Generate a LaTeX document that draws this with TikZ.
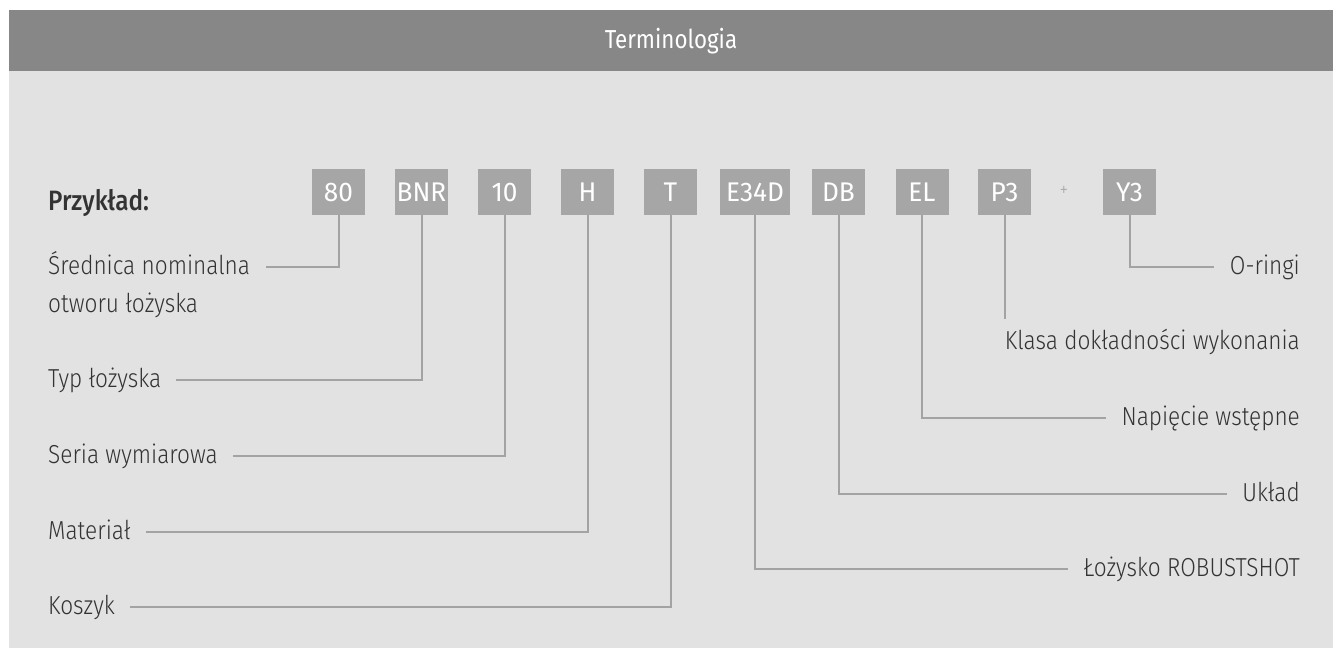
\documentclass[tikz,border=0pt]{standalone}
\usepackage{fontspec}
\setmainfont{Fira Sans}[UprightFont=* Light, BoldFont=* Medium, FakeStretch=0.87]
\newfontfamily\boxfont{Fira Sans}[FakeStretch=0.97]
\newfontfamily\titlefont{Fira Sans}[FakeStretch=0.86]
\usetikzlibrary{calc}
\definecolor{hdr}{HTML}{878787}
\definecolor{bg}{HTML}{E2E2E2}
\definecolor{boxc}{HTML}{A6A6A6}
\definecolor{linec}{HTML}{A3A3A3}
\definecolor{txt}{HTML}{333333}
\begin{document}
\begin{tikzpicture}[x=1pt,y=-1pt,
  code/.style={fill=boxc, text=white, minimum width=53pt, minimum height=46pt, inner sep=0pt,
    font=\boxfont\fontsize{27}{27}\selectfont},
  lbl/.style={text=txt, inner sep=0pt, font=\fontsize{26}{38}\selectfont},
  lead/.style={draw=linec, line width=2pt, line join=miter}]
\useasboundingbox (0,0) rectangle (1338,648);
\fill[bg] (9,10) rectangle (1333,648);
\fill[hdr] (9,10) rectangle (1333,71);
\node[text=white, inner sep=0pt, font=\titlefont\fontsize{26}{26}\selectfont] (title) at (671,41) {Terminologia};
\node[text=txt, inner sep=0pt, anchor=base west, font=\bfseries\fontsize{28}{28}\selectfont] (ex) at (48,210) {Przykład:};
% code boxes
\node[code] (b80) at (338.5,192) {80};
\node[code] (bBNR) at (421.5,192) {BNR};
\node[code] (b10) at (504.5,192) {10};
\node[code] (bH) at (587.5,192) {H};
\node[code] (bT) at (670.5,192) {T};
\node[code, minimum width=70pt] (bE) at (755,192) {E34D};
\node[code] (bDB) at (838.5,192) {DB};
\node[code] (bEL) at (922,192) {EL};
\node[code] (bP3) at (1004.5,192) {P3};
\node[text=boxc, inner sep=0pt, font=\fontsize{20}{20}\selectfont] (plus) at (1064,191) {+};
\node[code] (bY3) at (1129.5,192) {Y3};
% left labels
\node[lbl, anchor=base west, align=left] (l80) at (48,312) {Średnica nominalna\\otworu łożyska};
\node[lbl, anchor=base west] (lBNR) at (48,387) {Typ łożyska};
\node[lbl, anchor=base west] (l10) at (48,463) {Seria wymiarowa};
\node[lbl, anchor=base west] (lH) at (48,539) {Materiał};
\node[lbl, anchor=base west] (lT) at (48,614) {Koszyk};
% right labels
\node[lbl, anchor=base east] (lY3) at (1300,274) {O-ringi};
\node[lbl, anchor=base east] (lP3) at (1300,349) {Klasa dokładności wykonania};
\node[lbl, anchor=base east] (lEL) at (1300,425) {Napięcie wstępne};
\node[lbl, anchor=base east] (lDB) at (1300,501) {Układ};
\node[lbl, anchor=base east] (lE) at (1300,576) {Łożysko ROBUSTSHOT};
% leader ends
\coordinate (e80) at ($(l80.east |- 0,267)+(16,0)$);
\coordinate (eBNR) at ($(lBNR.east |- 0,380)+(15,0)$);
\coordinate (e10) at ($(l10.east |- 0,456)+(15,0)$);
\coordinate (eH) at ($(lH.east |- 0,532)+(15,0)$);
\coordinate (eT) at ($(lT.east |- 0,607)+(15,0)$);
\coordinate (eY3) at ($(lY3.west |- 0,267)+(-16,0)$);
\coordinate (eP3) at (bP3.south |- 0,319);
\coordinate (eEL) at ($(lEL.west |- 0,418)+(-15,0)$);
\coordinate (eDB) at ($(lDB.west |- 0,494)+(-15,0)$);
\coordinate (eE) at ($(lE.west |- 0,569)+(-15,0)$);
% leaders
\draw[lead] (b80.south) |- (e80);
\draw[lead] (bBNR.south) |- (eBNR);
\draw[lead] (b10.south) |- (e10);
\draw[lead] (bH.south) |- (eH);
\draw[lead] (bT.south) |- (eT);
\draw[lead] (bY3.south) |- (eY3);
\draw[lead] (bP3.south) -- (eP3);
\draw[lead] (bEL.south) |- (eEL);
\draw[lead] (bDB.south) |- (eDB);
\draw[lead] (bE.south) |- (eE);
\end{tikzpicture}
\end{document}
